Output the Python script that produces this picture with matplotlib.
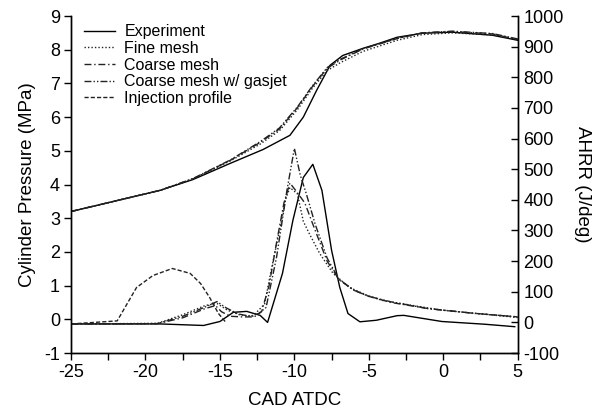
import numpy as np
import matplotlib.pyplot as plt
from matplotlib.ticker import MultipleLocator

plt.rcParams['font.family'] = ['Liberation Sans', 'DejaVu Sans']
plt.rcParams['axes.unicode_minus'] = False

# cylinder pressure (MPa)
cad_p_exp = [-25, -19, -16.8, -14.3, -12.1, -10.3, -9.4, -8.5, -7.6, -6.75, -5.4, -4.3, -3.1, -1.4, 0.6, 3.3, 5]
p_exp = [3.2, 3.83, 4.15, 4.63, 5.04, 5.46, 6.0, 6.8, 7.54, 7.83, 8.04, 8.19, 8.37, 8.49, 8.52, 8.43, 8.28]

cad_p_sim = [-25, -19, -16.8, -14.3, -12.3, -11.0, -9.8, -8.8, -7.8, -6.9, -5.4, -3.1, -1.4, 0.6, 3.3, 5]
p_fine = [3.2, 3.83, 4.17, 4.7, 5.2, 5.6, 6.22, 6.85, 7.38, 7.62, 7.95, 8.28, 8.45, 8.5, 8.44, 8.3]
p_coarse = [3.2, 3.83, 4.17, 4.72, 5.25, 5.65, 6.28, 6.9, 7.45, 7.7, 8.02, 8.33, 8.5, 8.54, 8.47, 8.3]
p_gasjet = [3.2, 3.83, 4.18, 4.73, 5.27, 5.68, 6.3, 6.92, 7.47, 7.72, 8.03, 8.34, 8.5, 8.55, 8.48, 8.32]

# apparent heat release rate (J/deg)
cad_h_exp = [-25, -19, -16.1, -15, -14.1, -13.2, -12.3, -11.8, -10.8, -10.1, -9.4, -8.76, -8.15, -7.5, -6.95,
             -6.4, -5.6, -4.5, -3.1, -2.65, -0.1, 2.8, 4.8]
h_exp = [-5, -5, -10, 3, 33, 36, 23, 0, 160, 333, 473, 516, 431, 235, 114, 29, 2, 7, 22, 23, 3, -6, -14]

cad_h_fine = [-25, -19.2, -17.5, -16, -15.2, -14.5, -13.7, -12.8, -12.0, -11.6, -11.0, -10.6, -10.3, -9.8,
              -9.4, -9.0, -8.3, -7.4, -6.3, -5.1, -4.1, -2.9, -0.1, 2.5, 5]
h_fine = [-5, -3, 25, 55, 62, 40, 25, 20, 60, 160, 300, 400, 440, 420, 330, 290, 225, 160, 114, 88, 72, 62, 40, 28, 16]

cad_h_coarse = [-25, -19.2, -17.5, -16, -15.3, -14.9, -14.3, -13.5, -12.7, -12.2, -11.7, -11.2, -10.7, -10.3,
                -9.9, -9.3, -8.6, -7.8, -7.0, -6.0, -5.0, -3.5, -1, 2, 5]
h_coarse = [-5, -4, 15, 45, 55, 35, 20, 18, 18, 35, 120, 260, 390, 455, 430, 390, 300, 200, 140, 105, 85, 65, 45, 30, 18]

cad_h_gasjet = [-25, -19.2, -17.5, -16, -15.2, -14.6, -13.8, -13.0, -12.4, -11.9, -11.2, -10.5, -10.0, -9.6,
                -9.2, -8.6, -7.8, -7.0, -6.0, -5.0, -3.5, -1, 2, 5]
h_gasjet = [-5, -4, 20, 50, 68, 48, 28, 20, 29, 49, 212, 431, 568, 480, 420, 320, 210, 140, 105, 85, 67, 45, 30, 18]

cad_inj = [-25, -21.9, -20.6, -19.5, -18.2, -17.0, -16.3, -15.7, -15.1, -14.6]
h_inj = [-5, 5, 114, 153, 176, 160, 127, 82, 29, 0]

fig = plt.figure(figsize=(6.02, 4.11), dpi=100)
ax = fig.add_axes([0.118, 0.141, 0.742, 0.82])
ax2 = ax.twinx()

c = '#222222'
ls_fine = (0, (1, 1.5))
ls_coarse = (0, (5, 2, 1, 2))
ls_gas = (0, (5, 1.5, 1, 1.5, 1, 1.5))
ls_inj = (0, (3, 1.5))

l1, = ax.plot(cad_p_exp, p_exp, color='k', lw=1.0, label='Experiment')
l2, = ax.plot(cad_p_sim, p_fine, color=c, lw=1.0, ls=ls_fine, label='Fine mesh')
l3, = ax.plot(cad_p_sim, p_coarse, color=c, lw=1.0, ls=ls_coarse, label='Coarse mesh')
l4, = ax.plot(cad_p_sim, p_gasjet, color=c, lw=1.0, ls=ls_gas, label='Coarse mesh w/ gasjet')

ax2.plot(cad_h_exp, h_exp, color='k', lw=1.0)
ax2.plot(cad_h_fine, h_fine, color=c, lw=1.0, ls=ls_fine)
ax2.plot(cad_h_coarse, h_coarse, color=c, lw=1.0, ls=ls_coarse)
ax2.plot(cad_h_gasjet, h_gasjet, color=c, lw=1.0, ls=ls_gas)
l5, = ax2.plot(cad_inj, h_inj, color=c, lw=1.0, ls=ls_inj, label='Injection profile')

ax.set_xlim(-25, 5)
ax.set_ylim(-1, 9)
ax2.set_ylim(-100, 1000)
ax.set_xticks(np.arange(-25, 6, 5))
ax.xaxis.set_minor_locator(MultipleLocator(2.5))
ax.set_yticks(np.arange(-1, 10, 1))
ax2.set_yticks(np.arange(-100, 1001, 100))

for a in (ax, ax2):
    a.spines['top'].set_visible(False)
    for s in a.spines.values():
        s.set_linewidth(1.0)
ax.tick_params(axis='both', which='major', direction='out', length=5, width=1, labelsize=13, pad=3)
ax.tick_params(axis='x', which='minor', direction='out', length=5, width=1)
ax2.tick_params(axis='y', direction='in', length=5, width=1, labelsize=13, pad=4)

ax.set_xlabel('CAD ATDC', fontsize=13.5, labelpad=8)
ax.set_ylabel('Cylinder Pressure (MPa)', fontsize=13.5, labelpad=6)
ax2.set_ylabel('AHRR (J/deg)', fontsize=13.5, rotation=270, labelpad=20)

ax.legend(handles=[l1, l2, l3, l4, l5], loc='upper left', bbox_to_anchor=(0.03, 0.975),
          frameon=False, fontsize=11.5, handlelength=1.9, handletextpad=0.6,
          labelspacing=0.1, borderpad=0, borderaxespad=0)

fig.savefig('out.png', dpi=100)
